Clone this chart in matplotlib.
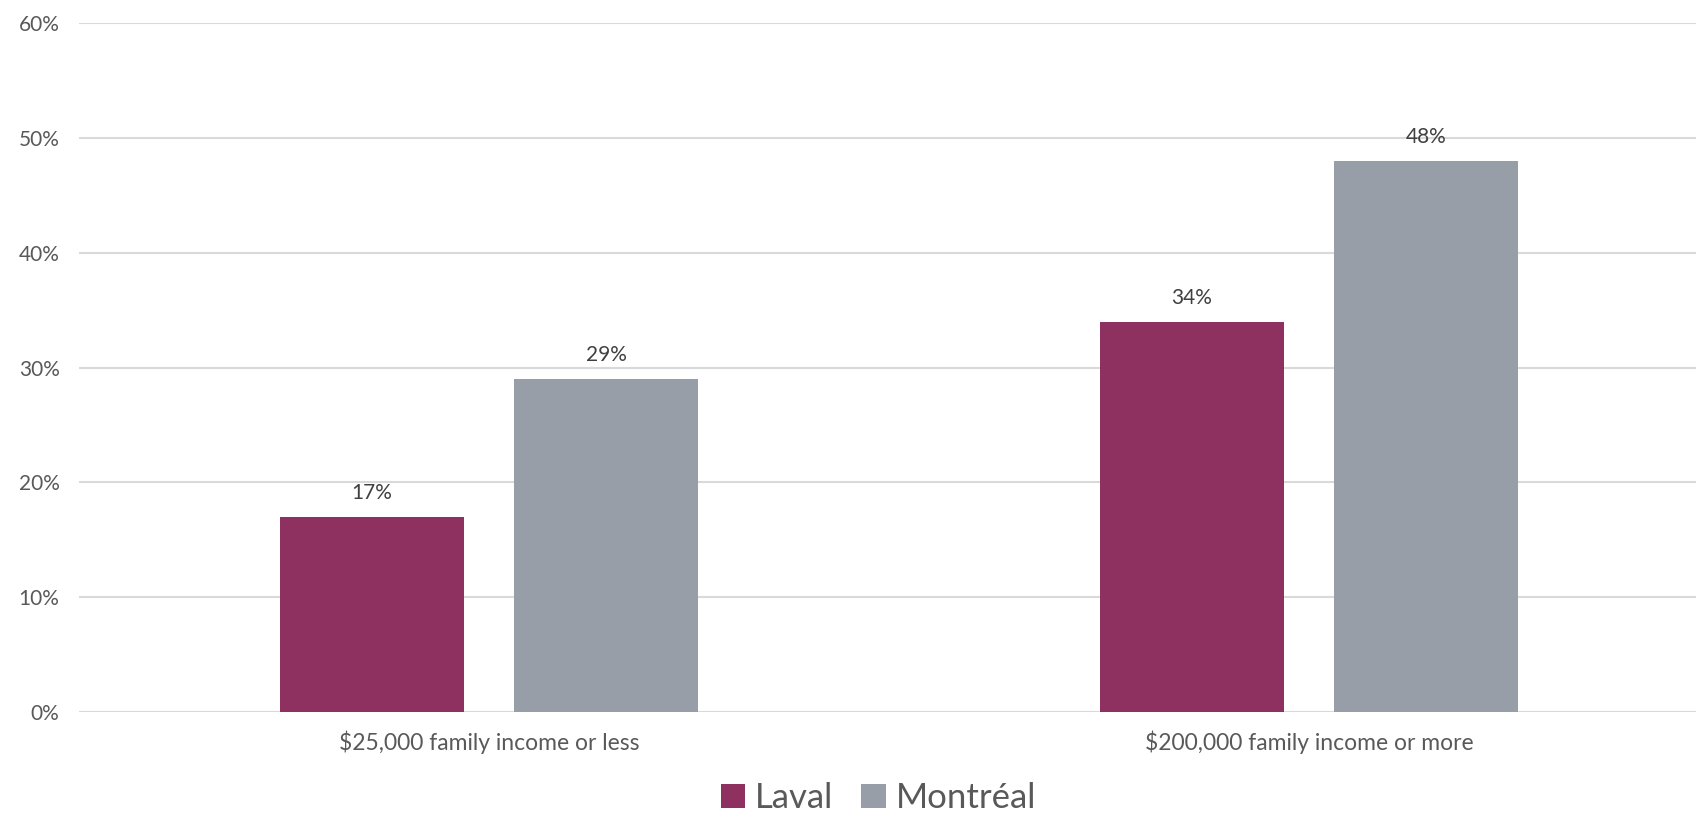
import numpy as np
import matplotlib.pyplot as plt
from matplotlib.ticker import PercentFormatter

plt.rcParams['font.family'] = ['Lato', 'DejaVu Sans']

categories = ['$25,000 family income or less', '$200,000 family income or more']
laval = [17, 34]
montreal = [29, 48]
series = ['Laval', 'Montréal']
colors = ['#8E3060', '#979EA7']
text_color = '#595959'

fig = plt.figure(figsize=(16.96, 8.18), dpi=100)
ax = fig.add_axes([79 / 1696, 106 / 818, 1617 / 1696, 689 / 818])

x = np.arange(len(categories))
w = 0.2244
off = 0.1427
b1 = ax.bar(x - off, laval, w, color=colors[0], label=series[0])
b2 = ax.bar(x + off, montreal, w, color=colors[1], label=series[1])

for bars in (b1, b2):
    for b in bars:
        ax.text(b.get_x() + b.get_width() / 2, b.get_height() + 1.2,
                f'{b.get_height():.0f}%', ha='center', va='bottom',
                fontsize=15, color='#404040')

ax.set_xlim(-0.5, 1.472)
ax.set_ylim(0, 60)
ax.set_yticks(range(0, 61, 10))
ax.yaxis.set_major_formatter(PercentFormatter(decimals=0))
ax.set_xticks(x)
ax.set_xticklabels(categories)
ax.tick_params(axis='both', length=0, labelsize=15, labelcolor=text_color)
ax.tick_params(axis='y', pad=14)
ax.tick_params(axis='x', pad=13, labelsize=16.5)
ax.grid(axis='y', color='#D9D9D9', linewidth=1.5)
ax.set_axisbelow(True)
for s in ax.spines.values():
    s.set_visible(False)

leg = fig.legend(loc='center', bbox_to_anchor=(0.518, 20 / 818), ncol=2,
                 frameon=False, fontsize=25, handlelength=0.7, handleheight=0.7,
                 handletextpad=0.3, columnspacing=0.8, labelcolor=text_color)

fig.savefig('out.png', dpi=100)
